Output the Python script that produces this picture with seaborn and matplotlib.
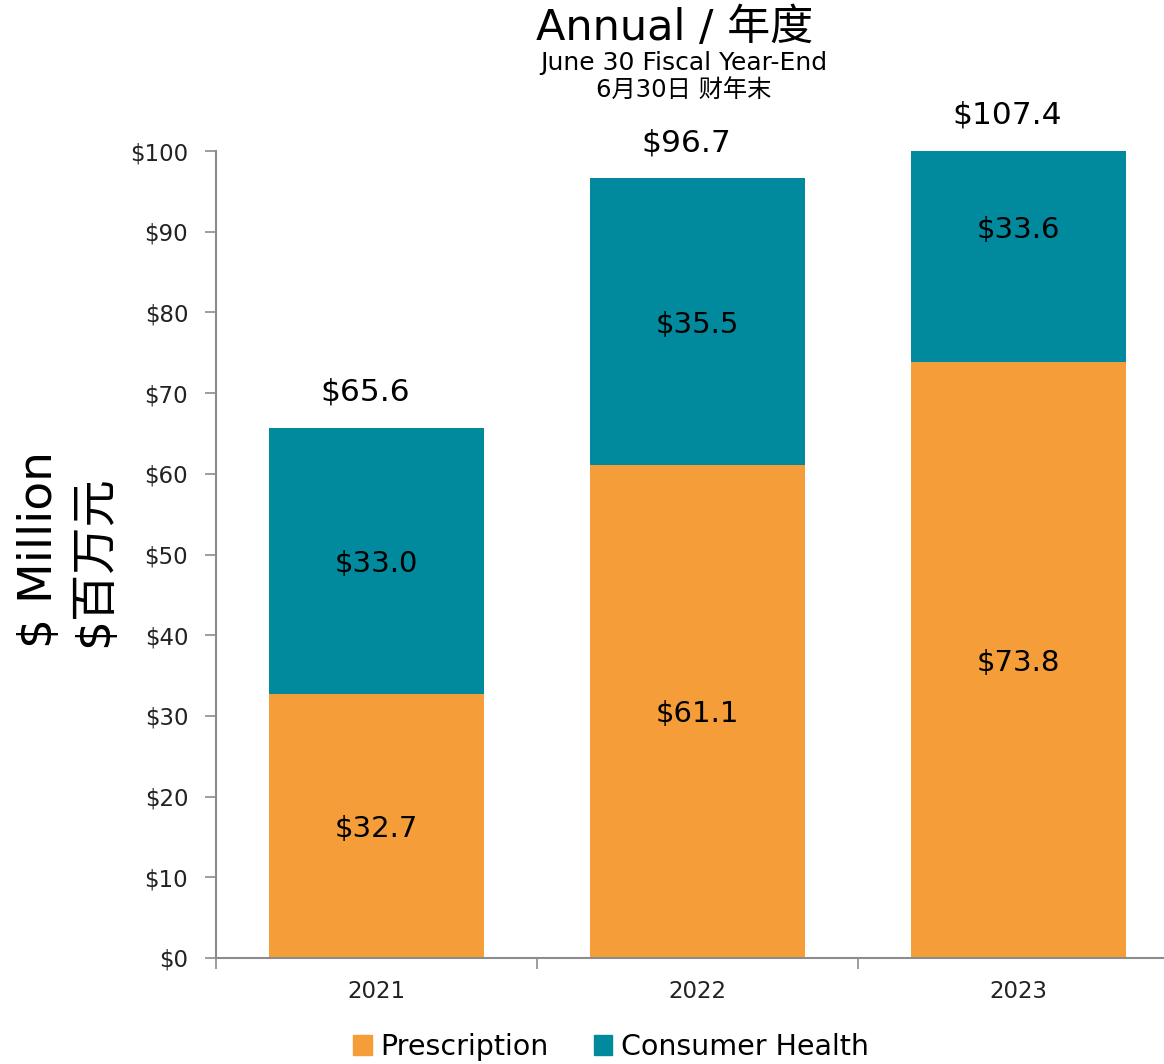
import pandas as pd
import matplotlib.pyplot as plt
import seaborn as sns
from matplotlib.patches import Patch

# data
years = ['2021', '2022', '2023']
prescription = [32.7, 61.1, 73.8]
consumer_health = [33.0, 35.5, 33.6]
totals = [65.6, 96.7, 107.4]

orange = '#F59D38'
teal = '#01899D'
grey = '#8C8C8C'

df = pd.DataFrame({'year': years,
                   'Prescription': prescription,
                   'Consumer Health': consumer_health,
                   'total': [p + c for p, c in zip(prescription, consumer_health)]})

sns.set_style('white')
plt.rcParams['font.family'] = ['DejaVu Sans', 'Noto Sans CJK SC']
plt.rcParams['text.color'] = 'black'

fig = plt.figure(figsize=(11.64, 10.64), dpi=100)
ax = fig.add_axes([216 / 1164, 106 / 1064, 963 / 1164, 807 / 1064])

# stacked bars: total first, prescription drawn over it
sns.barplot(data=df, x='year', y='total', color=teal, saturation=1,
            width=0.667, linewidth=0, ax=ax)
sns.barplot(data=df, x='year', y='Prescription', color=orange, saturation=1,
            width=0.667, linewidth=0, ax=ax)

ax.set_xlim(-0.5, 2.5)
ax.set_ylim(0, 100)
ax.set_yticks(range(0, 101, 10))
ax.set_yticklabels(['$%d' % v for v in range(0, 101, 10)], fontsize=16.5, color='#222222')
ax.tick_params(axis='y', length=8, color=grey, width=1.2, pad=12, left=True)
ax.set_xticks([0, 1, 2])
ax.set_xticklabels(years, fontsize=16.5, color='#222222')
ax.set_xticks([-0.5, 0.5, 1.5, 2.5], minor=True)
ax.tick_params(axis='x', which='major', length=0, pad=16)
ax.tick_params(axis='x', which='minor', length=8, color=grey, width=1.2, bottom=True)

for s in ['top', 'right']:
    ax.spines[s].set_visible(False)
for s in ['left', 'bottom']:
    ax.spines[s].set_color(grey)
    ax.spines[s].set_linewidth(1.5)

ax.set_xlabel('')
ax.set_ylabel('')

# segment labels
for i in range(len(years)):
    p = prescription[i]
    c = consumer_health[i]
    ax.text(i, p / 2, '$%.1f' % p, ha='center', va='center_baseline', fontsize=21)
    ax.text(i, p + c / 2, '$%.1f' % c, ha='center', va='center_baseline', fontsize=21)
    top = min(p + c, 100)
    ax.annotate('$%.1f' % totals[i], (i, top), xytext=(-8, 28),
                textcoords='offset points', ha='center', va='center_baseline',
                fontsize=22.5, annotation_clip=False)

# y axis label, two lines
fig.text(40 / 1164, 1 - 549 / 1064, '$ Million', rotation=90, ha='center',
         va='center', fontsize=34)
fig.text(95 / 1164, 1 - 561 / 1064, '$百万元', rotation=90, ha='center',
         va='center', fontsize=34)

# titles
fig.text(675 / 1164, 1 - 28 / 1064, 'Annual / 年度', ha='center', va='center', fontsize=31)
fig.text(684 / 1164, 1 - 63 / 1064, 'June 30 Fiscal Year-End', ha='center',
         va='center', fontsize=18)
fig.text(684 / 1164, 1 - 91 / 1064, '6月30日 财年末', ha='center',
         va='center', fontsize=17.5)

handles = [Patch(color=orange, label='Prescription'),
           Patch(color=teal, label='Consumer Health')]
fig.legend(handles=handles, loc='center', bbox_to_anchor=(611 / 1164, 17 / 1064),
           ncol=2, frameon=False, fontsize=20.5, handlelength=0.65, handleheight=0.65,
           handletextpad=0.3, columnspacing=1.6, borderpad=0)

fig.savefig('out.png', dpi=100)
